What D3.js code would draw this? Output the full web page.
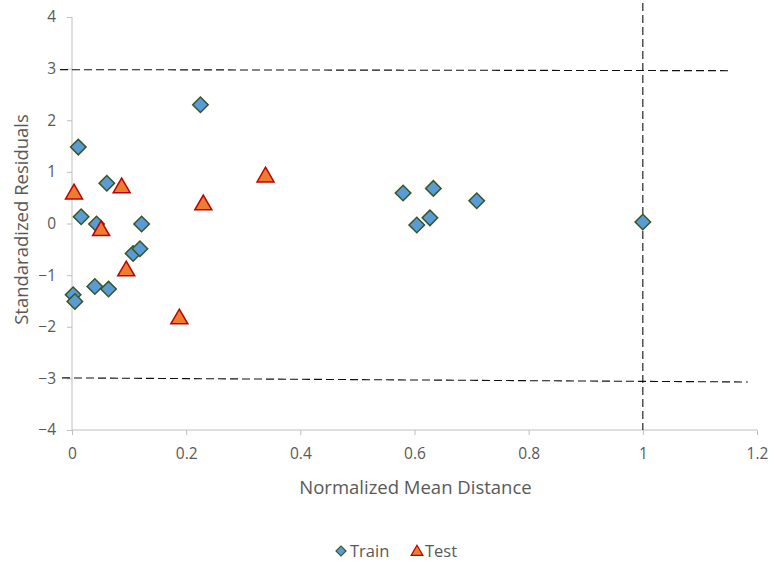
<!DOCTYPE html>
<html>
<head>
<meta charset="utf-8">
<script src="https://cdn.jsdelivr.net/npm/d3@7"></script>
<style>
  body { margin: 0; background: #fff; }
  svg text { font-family: "Open Sans", Calibri, sans-serif; fill: #595959; }
</style>
</head>
<body>
<div id="chart"></div>
<script>
// ── Data ──
const trainX = [0.011, 0.225, 0.016, 0.043, 0.061, 0.122, 0.107, 0.119, 0.040, 0.064, 0.002, 0.005, 0.580, 0.633, 0.604, 0.627, 0.709, 1.000];
const trainY = [1.48, 2.30, 0.13, -0.01, 0.78, -0.01, -0.58, -0.49, -1.22, -1.27, -1.38, -1.51, 0.59, 0.68, -0.03, 0.11, 0.44, 0.03];
const testX = [0.0035, 0.087, 0.051, 0.095, 0.188, 0.230, 0.339];
const testY = [0.60, 0.72, -0.11, -0.89, -1.82, 0.39, 0.93];
const xTicks = [0, 0.2, 0.4, 0.6, 0.8, 1, 1.2];
const yTicks = [-4, -3, -2, -1, 0, 1, 2, 3, 4];
// limit lines (drawn as shapes, endpoints in data units)
const limitLines = [
  [[-0.021, 2.98], [1.156, 2.96]],
  [[-0.0175, -2.99], [1.184, -3.07]],
  [[1, 4.27], [1, -4]]
];

const W = 773, H = 566;
const m = { top: 17, right: 16, bottom: 136, left: 72 };
const width = W - m.left - m.right;
const height = H - m.top - m.bottom;

const svg = d3.select('#chart').append('svg')
  .attr('width', W).attr('height', H);
const g = svg.append('g').attr('transform', `translate(${m.left},${m.top})`);

const x = d3.scaleLinear().domain([0, 1.2]).range([0, width]);
const y = d3.scaleLinear().domain([-4, 4]).range([height, 0]);

// Axes
const xAxis = g.append('g').attr('transform', `translate(0,${height})`)
  .call(d3.axisBottom(x).tickValues(xTicks).tickSize(5).tickPadding(13).tickFormat(d3.format('')));
const yAxis = g.append('g')
  .call(d3.axisLeft(y).tickValues(yTicks).tickSize(5).tickPadding(11).tickFormat(d3.format('')));
[xAxis, yAxis].forEach(a => {
  a.selectAll('path, line').attr('stroke', '#bfbfbf');
  a.select('.domain').attr('d', a === xAxis ? `M0,0H${width}` : `M0,0V${height}`);
  a.selectAll('text').style('font-size', '15.5px').attr('fill', '#595959');
});

// Limit lines
const line = d3.line().x(d => x(d[0])).y(d => y(d[1]));
g.selectAll('.limit').data(limitLines).enter().append('path')
  .attr('class', 'limit')
  .attr('d', line)
  .attr('fill', 'none')
  .attr('stroke', '#111')
  .attr('stroke-width', 1.1)
  .attr('stroke-dasharray', '8,4');

// Markers
const diamond = d3.symbol().type(d3.symbolSquare).size(120);
const tri = d3.symbol().type(d3.symbolTriangle).size(125);

const train = trainX.map((v, i) => ({ x: v, y: trainY[i] }));
const test = testX.map((v, i) => ({ x: v, y: testY[i] }));

g.selectAll('.train').data(train).enter().append('path')
  .attr('class', 'train')
  .attr('d', diamond)
  .attr('transform', d => `translate(${x(d.x)},${y(d.y)}) rotate(45)`)
  .attr('fill', '#5b9bd5').attr('stroke', '#375623').attr('stroke-width', 1.5);

g.selectAll('.test').data(test).enter().append('path')
  .attr('class', 'test')
  .attr('d', tri)
  .attr('transform', d => `translate(${x(d.x)},${y(d.y) + 1.5})`)
  .attr('fill', '#ed7d31').attr('stroke', '#c00000').attr('stroke-width', 1.5);

// Axis titles
svg.append('text')
  .attr('x', m.left + width / 2 + 1).attr('y', 494)
  .attr('text-anchor', 'middle')
  .style('font-size', '18.5px')
  .text('Normalized Mean Distance');
svg.append('text')
  .attr('transform', `translate(28,${m.top + height / 2 - 4}) rotate(-90)`)
  .attr('text-anchor', 'middle')
  .style('font-size', '18.5px')
  .text('Standaradized Residuals');

// Legend
const lg = svg.append('g').attr('transform', 'translate(341,551)');
lg.append('path').attr('d', d3.symbol().type(d3.symbolSquare).size(50))
  .attr('transform', 'rotate(45)')
  .attr('fill', '#5b9bd5').attr('stroke', '#375623').attr('stroke-width', 1.2);
lg.append('text').attr('x', 9).attr('y', 6).style('font-size', '16.5px').text('Train');
lg.append('path').attr('d', d3.symbol().type(d3.symbolTriangle).size(60))
  .attr('transform', 'translate(76,1)')
  .attr('fill', '#ed7d31').attr('stroke', '#c00000').attr('stroke-width', 1.2);
lg.append('text').attr('x', 84).attr('y', 6).style('font-size', '16.5px').text('Test');
</script>
</body>
</html>
